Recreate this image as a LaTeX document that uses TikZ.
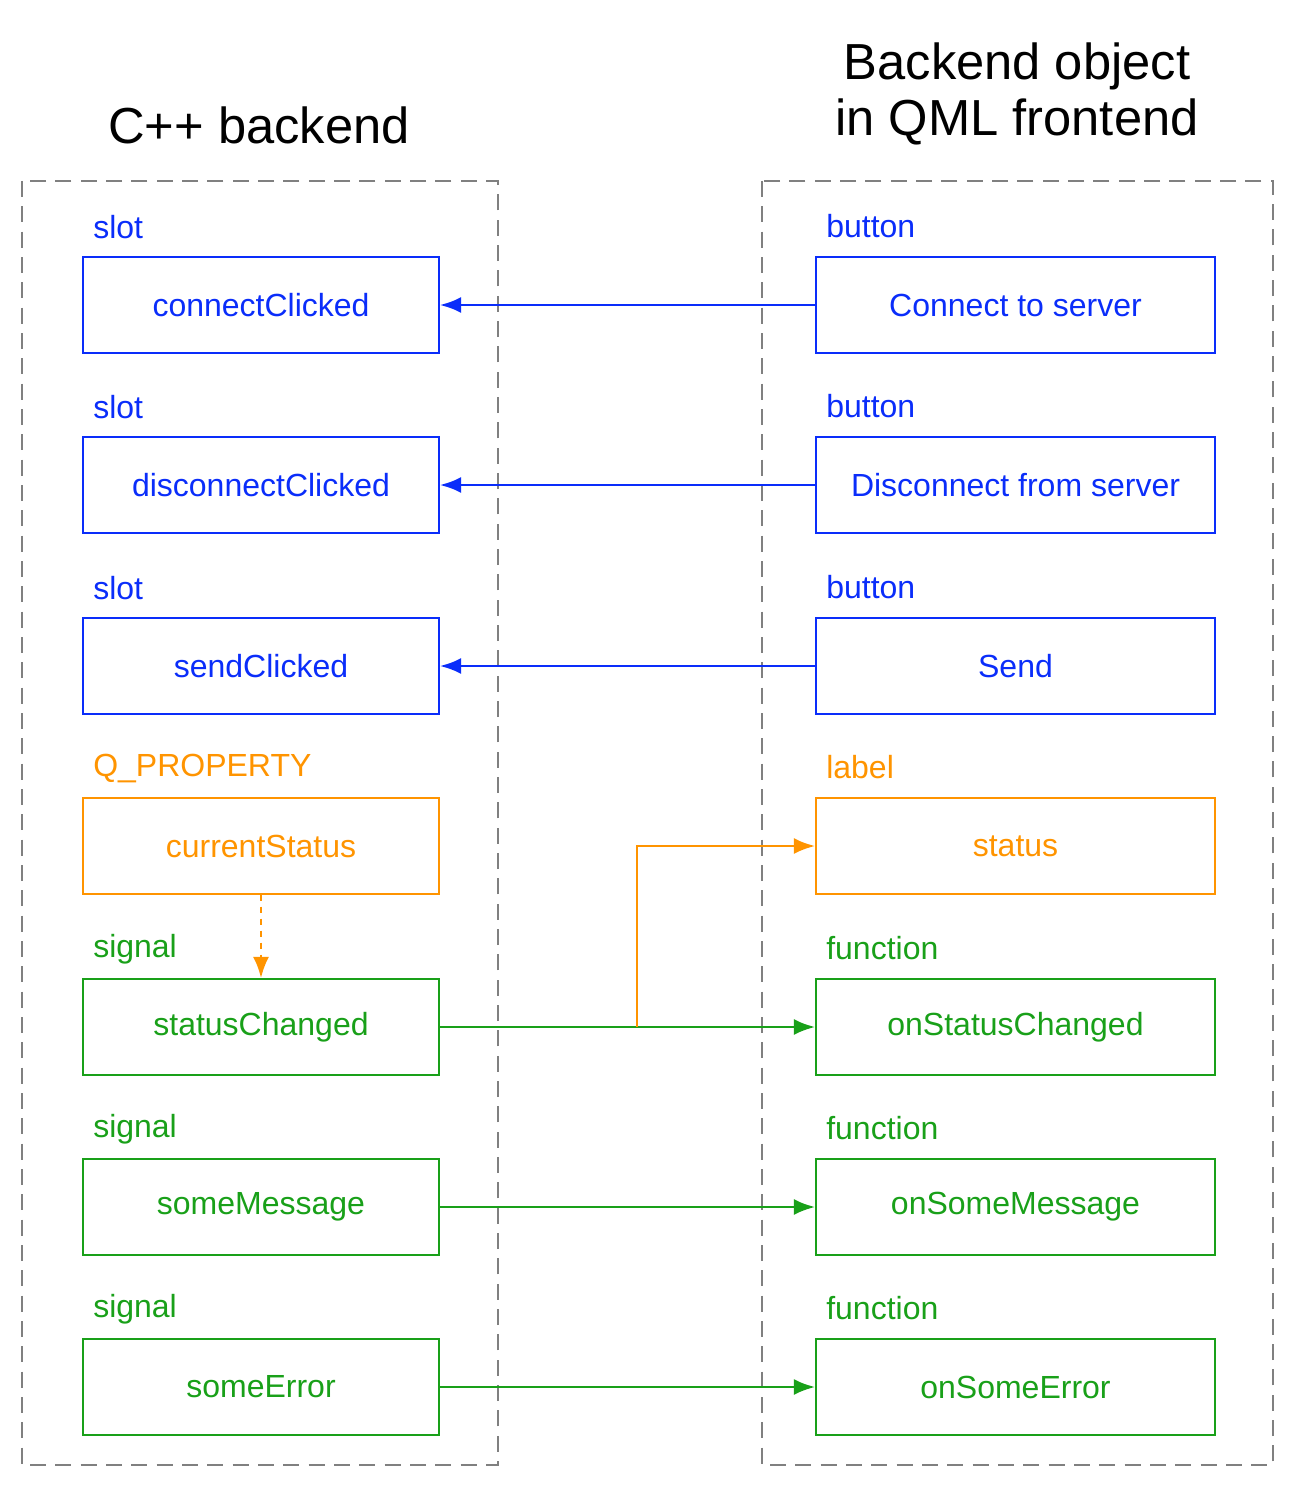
\documentclass[tikz,border=0pt]{standalone}
\usepackage{fontspec}
\setmainfont{Liberation Sans}
\usetikzlibrary{arrows.meta}
\definecolor{cb}{RGB}{10,45,250}
\definecolor{co}{RGB}{255,148,0}
\definecolor{cg}{RGB}{25,160,25}
\begin{document}
\begin{tikzpicture}[x=0.75pt,y=-0.75pt,
 box/.style={draw,line width=1.1pt,minimum width=356*0.75pt,minimum height=96*0.75pt,inner sep=0,font=\fontsize{24}{28}\selectfont},
 rbox/.style={box,minimum width=399*0.75pt},
 lab/.style={anchor=west,font=\fontsize{24}{28}\selectfont,inner sep=0},
 frame/.style={draw=gray,dashed,line width=2pt,dash pattern=on 12pt off 7pt},
 arr/.style={line width=2.2pt,-{Latex[length=16pt,width=12pt]}},
 title/.style={font=\fontsize{38}{46}\selectfont,align=center}]
\useasboundingbox (0,0) rectangle (1295,1487);
\draw[frame] (22,181) rectangle (498,1465);
\draw[frame] (762,181) rectangle (1273,1465);
\node[title] (t1) at (259,125) {C++ backend};
\node[title] (t2) at (1017,94) {Backend object\\[-4pt]in QML frontend};
\foreach \n/\y/\t/\c/\ll in {a/305/connectClicked/cb/slot, b/485/disconnectClicked/cb/slot, c/666/sendClicked/cb/slot, d/846/currentStatus/co/Q\_PROPERTY, e/1027/statusChanged/cg/signal, f/1207/someMessage/cg/signal, g/1387/someError/cg/signal}{
 \node[box,draw=\c,text=\c] (L\n) at (261,\y) {\t};
 \node[lab,text=\c] (LL\n) at (93,\y-78) {\ll};
}
\foreach \n/\y/\t/\c/\ll in {a/305/Connect to server/cb/button, b/485/Disconnect from server/cb/button, c/666/Send/cb/button, d/846/status/co/label, e/1027/onStatusChanged/cg/function, f/1207/onSomeMessage/cg/function, g/1387/onSomeError/cg/function}{
 \node[rbox,draw=\c,text=\c] (R\n) at (1015.5,\y) {\t};
 \node[lab,text=\c] (RL\n) at (826,\y-79) {\ll};
}
\foreach \n in {a,b,c}{\draw[arr,cb] (R\n.west) -- (L\n.east);}
\foreach \n in {e,f,g}{\draw[arr,cg] (L\n.east) -- (R\n.west);}
\coordinate (j) at (637,1027);
\draw[arr,co] (j) |- (Rd.west);
\draw[co,line width=2.2pt,dash pattern=on 5pt off 4pt,-{Latex[length=16pt,width=12pt]}] (Ld.south) -- (Le.north);
\end{tikzpicture}
\end{document}
